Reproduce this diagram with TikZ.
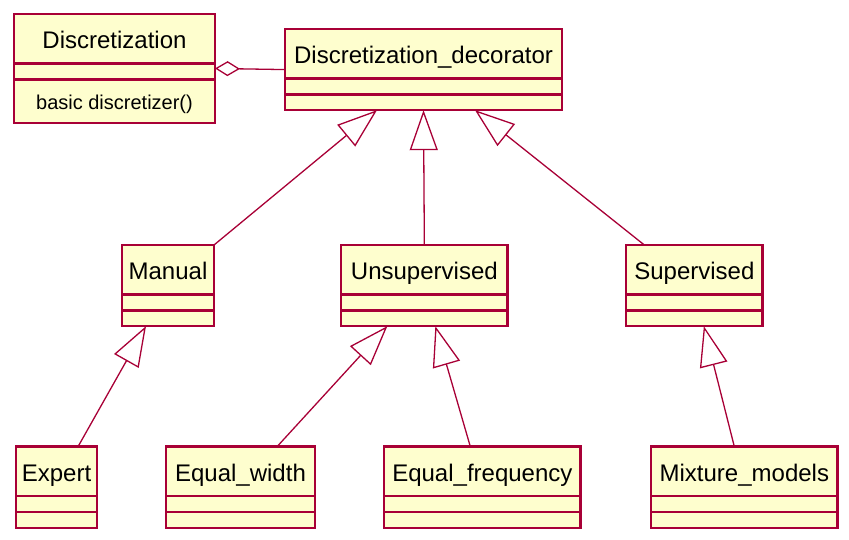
\documentclass[tikz,border=0pt]{standalone}
\usepackage{fontspec}
\setmainfont{Liberation Sans}
\usetikzlibrary{shapes.multipart,arrows.meta}
\definecolor{umlborder}{HTML}{A80036}
\definecolor{umlfill}{HTML}{FEFECE}
\providecommand\namestrut{\rule[-9.3pt]{0pt}{38.8pt}}
\providecommand\opstrut{\rule[-8.5pt]{0pt}{33pt}}

\begin{document}
\begin{tikzpicture}[x=1pt, y=-1pt]
  \tikzstyle{umlclass} = [rectangle split, rectangle split parts=3, draw=umlborder, fill=umlfill,
                          line width=2.6pt, inner xsep=0pt, inner ysep=4pt, outer sep=0pt,
                          anchor=north west, font=\fontsize{24}{28}\selectfont,
                          rectangle split empty part height=5pt, rectangle split empty part depth=0pt]
  \tikzstyle{isa} = [draw=umlborder, line width=1.3pt, -{Triangle[open, length=40pt, width=28pt]}]
  \tikzstyle{agg} = [draw=umlborder, line width=1.3pt, -{Diamond[open, length=25pt, width=15pt]}]

\useasboundingbox (0,0) rectangle (849,540);

\node[umlclass, minimum width=201pt] (disc) at (14,14) {\namestrut Discretization\nodepart{second}\nodepart{third}{\fontsize{20}{24}\selectfont\opstrut basic discretizer()}};
\node[umlclass, minimum width=277pt] (deco) at (285,29) {\namestrut Discretization\_decorator\nodepart{second}\nodepart{third}};
\node[umlclass, minimum width=92pt] (manual) at (122,245) {\namestrut Manual\nodepart{second}\nodepart{third}};
\node[umlclass, minimum width=166.7pt] (unsup) at (341,245) {\namestrut Unsupervised\nodepart{second}\nodepart{third}};
\node[umlclass, minimum width=136.7pt] (sup) at (626,245) {\namestrut Supervised\nodepart{second}\nodepart{third}};
\node[umlclass, minimum width=81pt] (expert) at (16,446.7) {\namestrut Expert\nodepart{second}\nodepart{third}};
\node[umlclass, minimum width=149pt] (eqw) at (166,446.7) {\namestrut Equal\_width\nodepart{second}\nodepart{third}};
\node[umlclass, minimum width=196.7pt] (eqf) at (384,446.7) {\namestrut Equal\_frequency\nodepart{second}\nodepart{third}};
\node[umlclass, minimum width=186.7pt] (mix) at (651,446.7) {\namestrut Mixture\_models\nodepart{second}\nodepart{third}};

\draw[agg] (deco.west) -- (disc.east);
\draw[isa] (manual.north east) -- ([xshift=-46.5pt]deco.south);
\draw[isa] (unsup.north) -- (deco.south);
\draw[isa] ([xshift=-50pt]sup.north) -- ([xshift=51.5pt]deco.south);
\draw[isa] ([xshift=21.5pt]expert.north) -- ([xshift=-22pt]manual.south);
\draw[isa] ([xshift=36.5pt]eqw.north) -- ([xshift=-37pt]unsup.south);
\draw[isa] ([xshift=-12pt]eqf.north) -- ([xshift=11pt]unsup.south);
\draw[isa] ([xshift=-10pt]mix.north) -- ([xshift=9.5pt]sup.south);
\end{tikzpicture}
\end{document}
